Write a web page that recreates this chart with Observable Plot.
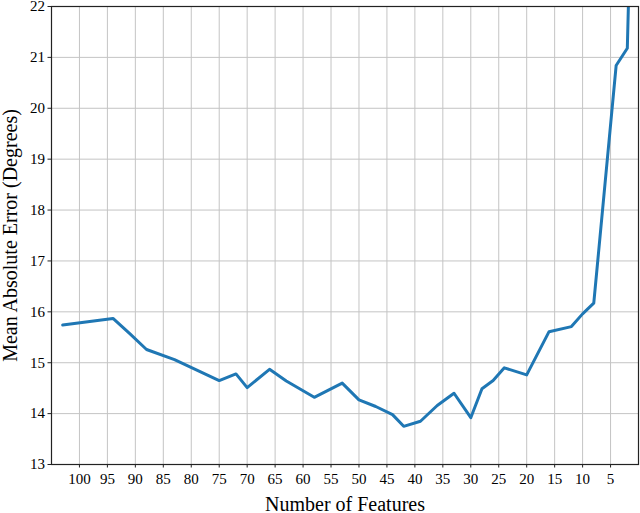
<!DOCTYPE html>
<html>
<head>
<meta charset="utf-8">
<script src="https://cdn.jsdelivr.net/npm/d3@7"></script>
<script src="https://cdn.jsdelivr.net/npm/@observablehq/plot@0.6"></script>
<style>
  html, body { margin: 0; padding: 0; background: #fff; }
  svg text { font-family: 'Liberation Serif', 'Times New Roman', serif !important; }
</style>
</head>
<body>
<div id="chart"></div>
<script>
const features = [103, 94, 91, 88, 83, 75, 72, 70, 66, 63, 58, 53, 50, 47, 44, 42, 39, 36, 33, 30, 28, 26, 24, 20, 16, 12, 10, 8, 4, 2, 1];
const mae = [15.74, 15.87, 15.57, 15.26, 15.06, 14.65, 14.78, 14.51, 14.87, 14.64, 14.32, 14.60, 14.27, 14.14, 13.98, 13.75, 13.85, 14.16, 14.40, 13.92, 14.49, 14.65, 14.90, 14.76, 15.61, 15.71, 15.96, 16.17, 20.84, 21.18, 25.5];
const xTicks = [100, 95, 90, 85, 80, 75, 70, 65, 60, 55, 50, 45, 40, 35, 30, 25, 20, 15, 10, 5];
const yTicks = [13, 14, 15, 16, 17, 18, 19, 20, 21, 22];

const data = features.map((f, i) => ({f, v: mae[i]}));
const serif = "'Liberation Serif', 'Times New Roman', serif";

const chart = Plot.plot({
  width: 640,
  height: 513,
  marginLeft: 51,
  marginRight: 2,
  marginTop: 6,
  marginBottom: 49,
  style: {fontFamily: serif, fontSize: "15px", color: "#000", background: "#fff"},
  x: {domain: [105, 0]},
  y: {domain: [13, 22]},
  marks: [
    Plot.gridX(xTicks, {stroke: "#c4c4c4", strokeOpacity: 1, strokeWidth: 1}),
    Plot.gridY(yTicks, {stroke: "#c4c4c4", strokeOpacity: 1, strokeWidth: 1}),
    Plot.axisX(xTicks, {tickSize: 3.5, tickPadding: 5, fontSize: 15, fontFamily: serif, tickFormat: "d", label: "Number of Features", labelAnchor: "center", labelArrow: "none", labelOffset: 46, stroke: "#222"}),
    Plot.axisY(yTicks, {tickSize: 3.5, tickPadding: 3, fontSize: 15, fontFamily: serif, tickFormat: "d", label: "Mean Absolute Error (Degrees)", labelAnchor: "center", labelArrow: "none", labelOffset: 49, stroke: "#222"}),
    Plot.line(data, {x: "f", y: "v", stroke: "#1f77b4", strokeWidth: 3, clip: true, strokeLinejoin: "round"}),
    Plot.frame({stroke: "#222", strokeWidth: 1.2})
  ]
});

chart.querySelectorAll("g[aria-label='x-axis label'] text, g[aria-label='y-axis label'] text").forEach(t => {
  t.style.fontSize = "20px";
});
document.getElementById("chart").appendChild(chart);
</script>
</body>
</html>
